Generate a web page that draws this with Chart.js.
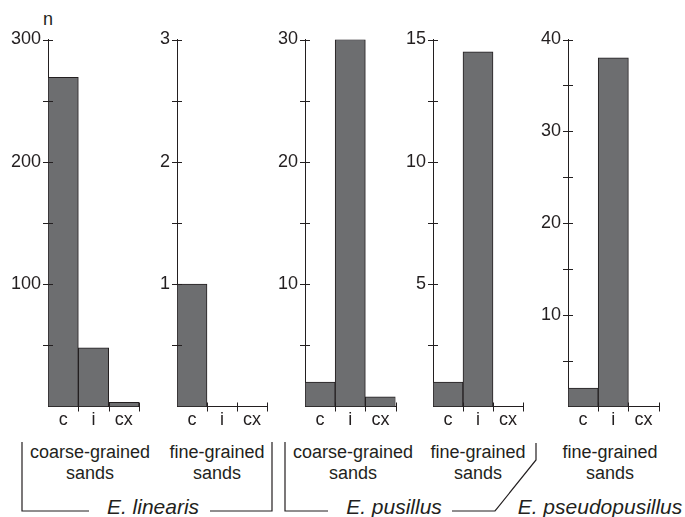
<!DOCTYPE html>
<html><head><meta charset="utf-8">
<script src="https://cdn.jsdelivr.net/npm/chart.js@4.4.0/dist/chart.umd.min.js"></script>
<style>
body{margin:0;background:#fff;width:685px;height:517px;overflow:hidden;position:relative;font-family:"Liberation Sans",Arial,sans-serif;color:#231f20}
canvas{position:absolute;top:0}
.t{position:absolute;white-space:nowrap;font-size:18px;line-height:21px;text-align:center;transform:translateX(-50%)}
.sp{position:absolute;white-space:nowrap;font-size:21px;font-style:italic;line-height:24px;transform:translate(-50%,-50%)}
svg{position:absolute;left:0;top:0}
</style></head><body>
<div class="t" style="left:48px;top:9px">n</div>
<div class="t" style="left:90px;top:442px">coarse-grained<br>sands</div>
<div class="t" style="left:217px;top:442px">fine-grained<br>sands</div>
<div class="t" style="left:353px;top:442px">coarse-grained<br>sands</div>
<div class="t" style="left:478px;top:442px">fine-grained<br>sands</div>
<div class="t" style="left:610px;top:442px">fine-grained<br>sands</div>
<div class="sp" style="left:153px;top:507px">E. linearis</div>
<div class="sp" style="left:394px;top:507px">E. pusillus</div>
<div class="sp" style="left:600px;top:507px">E. pseudopusillus</div>
<svg width="685" height="517"><g fill="none" stroke="#231f20" stroke-width="1.2">
<path d="M22,442 V511 H89"/><path d="M210,511 H272 V442"/>
<path d="M285,442 V511 H328"/><path d="M452,511 H495 L536,460 V443"/>
</g></svg>
<script>
const categories = ['c', 'i', 'cx'];
const linearisCoarse = [269, 48, 3.5];
const linearisFine = [1, 0, 0];
const pusillusCoarse = [2, 30, 0.8];
const pusillusFine = [1, 14.5, 0];
const pseudopusillusFine = [2, 38, 0];
const seriesList = [linearisCoarse, linearisFine, pusillusCoarse, pusillusFine, pseudopusillusFine];
const yMax = [300, 3, 30, 15, 40];
const yMajor = [100, 1, 10, 5, 10];
const yMinor = [50, 0.5, 5, 2.5, 5];

// layout (pixel) settings
const axisX = [48, 177, 304.5, 432.7, 567.7];
const plotW = [91, 90, 90.5, 90, 90.6];
const Y_AXIS_W = 48, PAD_R = 6;
const INK = '#231f20';

const crossTicks = {
  id: 'crossTicks',
  afterDraw(chart) {
    const {ctx, scales: {x, y}} = chart;
    ctx.save();
    ctx.strokeStyle = INK; ctx.lineWidth = 1;
    ctx.beginPath();
    y.ticks.forEach((t, i) => {
      if (t.value === 0) return;
      const py = Math.round(y.getPixelForTick(i)) + 0.5;
      ctx.moveTo(x.left - 5, py); ctx.lineTo(x.left + 5, py);
    });
    const half = (x.getPixelForValue(1) - x.getPixelForValue(0)) / 2;
    for (let i = 0; i < categories.length; i++) {
      const px = Math.round(x.getPixelForValue(i) + half) + 0.5;
      ctx.moveTo(px, y.bottom - 4); ctx.lineTo(px, y.bottom + 5);
    }
    ctx.stroke();
    ctx.restore();
  }
};

seriesList.forEach((data, k) => {
  const cv = document.createElement('canvas');
  const w = Y_AXIS_W + plotW[k] + PAD_R;
  cv.width = Math.ceil(w); cv.height = 517;
  cv.style.left = (axisX[k] - Y_AXIS_W) + 'px';
  document.body.appendChild(cv);
  new Chart(cv, {
    type: 'bar',
    data: {labels: categories, datasets: [{data, backgroundColor: '#6d6e70', borderColor: INK, borderWidth: 1, barPercentage: 1, categoryPercentage: 1}]},
    options: {
      responsive: false, animation: false,
      layout: {padding: {top: 39.5, right: cv.width - w + PAD_R, bottom: 80.5, left: 0}},
      plugins: {legend: {display: false}, tooltip: {enabled: false}},
      scales: {
        x: {
          grid: {display: false, drawTicks: false},
          border: {display: true, color: INK, width: 1},
          ticks: {color: INK, font: {family: '"Liberation Sans", Arial, sans-serif', size: 18}, padding: 3, maxRotation: 0},
          afterFit: s => { s.height = 30; }
        },
        y: {
          min: 0, max: yMax[k],
          grid: {display: false, drawTicks: false},
          border: {display: true, color: INK, width: 1},
          ticks: {
            stepSize: yMinor[k], color: INK, padding: 7,
            font: {family: '"Liberation Sans", Arial, sans-serif', size: 18},
            callback: v => (v !== 0 && Math.abs(v / yMajor[k] - Math.round(v / yMajor[k])) < 1e-6) ? String(v) : ''
          },
          afterFit: s => { s.width = Y_AXIS_W; }
        }
      }
    },
    plugins: [crossTicks]
  });
});
</script>
</body></html>
